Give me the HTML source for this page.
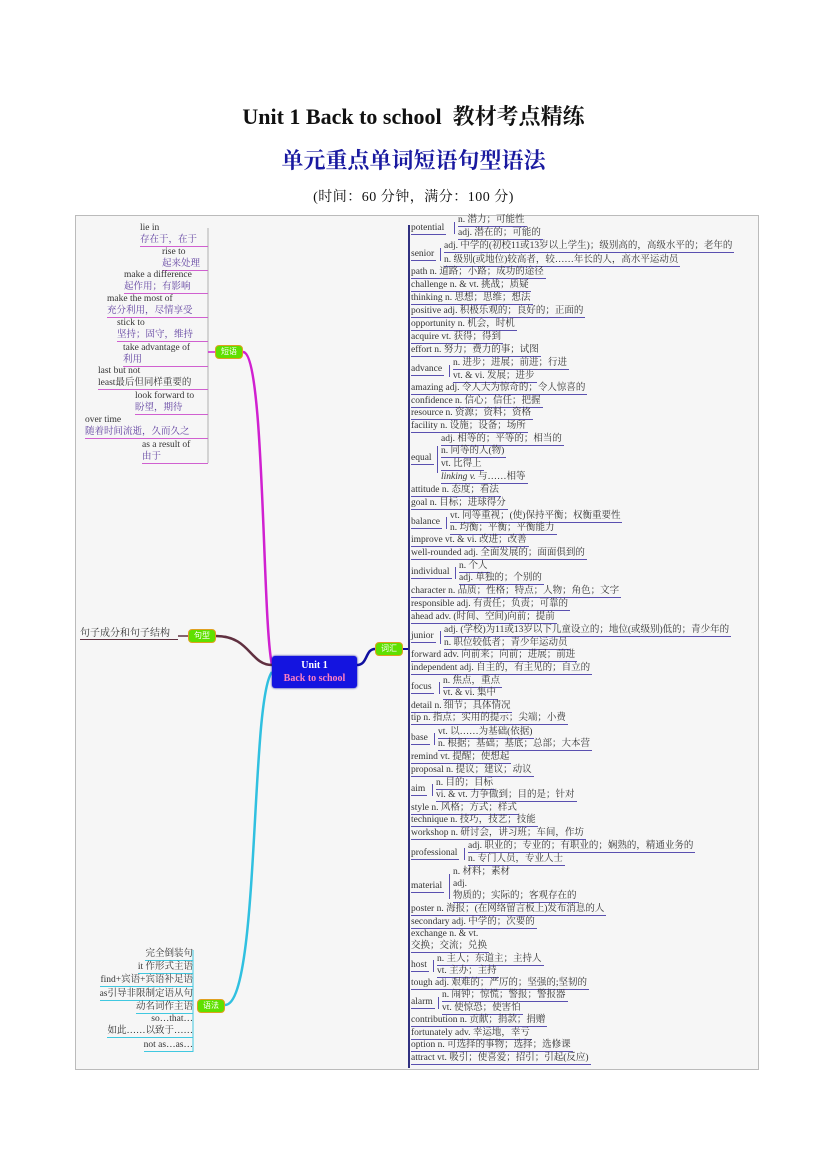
<!DOCTYPE html>
<html><head><meta charset="utf-8">
<style>
body{margin:0;width:827px;height:1169px;background:#fff;position:relative;font-family:"Liberation Serif","Noto Serif CJK SC",serif;overflow:hidden}
.t{position:absolute;white-space:nowrap}
.box{position:absolute;left:75px;top:215px;width:682px;height:853px;border:1px solid #bbb;background:#f6f6f6}
.r{position:absolute;font-size:9.5px;line-height:11px;border-bottom:1px solid #5a50b0;white-space:nowrap;color:#333;padding-right:2px}
.s{position:absolute;font-size:9.5px;line-height:11px;border-bottom:1px solid #5a50b0;white-space:nowrap;color:#333;padding-right:2px}
.br{position:absolute;border-left:1px solid #5a50b0;width:3px}
.p{position:absolute;font-size:9.5px;line-height:11px;color:#333;white-space:nowrap;text-align:left}
.pl{position:absolute;border-bottom:1px solid #d060d0;right:619px}
.g{position:absolute;font-size:9.5px;line-height:12px;color:#333;white-space:nowrap;right:634px;border-bottom:1px solid #40c8e0;text-align:right}
.node{position:absolute;width:26px;height:12px;background:#5fe000;border:1px solid #e0a020;border-radius:4px;font-size:8px;line-height:12px;text-align:center;color:#fff;font-family:"Liberation Sans","Noto Sans CJK SC",sans-serif}
</style></head><body>
<div class="t" style="left:0;width:827px;text-align:center;top:100px;font-size:22px;font-weight:bold;color:#111">Unit 1 Back to school&nbsp; 教材考点精练</div>
<div class="t" style="left:0;width:827px;text-align:center;top:144px;font-size:22px;font-weight:bold;color:#1a1aa0">单元重点单词短语句型语法</div>
<div class="t" style="left:0;width:827px;text-align:center;top:186px;font-size:14px;color:#111;letter-spacing:0.5px">(时间：60 分钟，满分：100 分)</div>
<div class="box"></div>
<svg style="position:absolute;left:0;top:0" width="827" height="1169">
<path d="M243 352 C265 352 262 620 272 665" stroke="#d020d0" stroke-width="2.5" fill="none"/>
<path d="M216 636 C250 636 250 665 272 665" stroke="#603040" stroke-width="2.5" fill="none"/>
<path d="M225 1005 C260 1005 250 700 272 672" stroke="#30c0e0" stroke-width="2.5" fill="none"/>
<path d="M357 665 C368 665 365 649 375 649" stroke="#1010a0" stroke-width="2.5" fill="none"/>
<line x1="403" y1="649" x2="408" y2="649" stroke="#1010a0" stroke-width="2"/>
<line x1="409" y1="225" x2="409" y2="1068" stroke="#303080" stroke-width="2"/>
<line x1="208" y1="228" x2="208" y2="463" stroke="#b0b0b0" stroke-width="1"/>
<line x1="208" y1="352" x2="215" y2="352" stroke="#d020d0" stroke-width="1.5"/>
<line x1="193" y1="950" x2="193" y2="1052" stroke="#40c8e0" stroke-width="1"/>
<line x1="178" y1="636" x2="188" y2="636" stroke="#603040" stroke-width="1.5"/>
</svg>
<div style="position:absolute;left:272px;top:656px;width:85px;height:32px;background:#1414e0;border-radius:3px;box-shadow:0 0 2px #0000a0;text-align:center;font-size:10px;line-height:13px;font-weight:bold;padding-top:3px;box-sizing:border-box"><span style="color:#fff">Unit 1</span><br><span style="color:#ff80c0">Back to school</span></div>
<div class="node" style="left:375px;top:642px">词汇</div>
<div class="node" style="left:215px;top:345px">短语</div>
<div class="node" style="left:188px;top:629px">句型</div>
<div class="node" style="left:197px;top:999px">语法</div>
<div class="t" style="left:80px;top:624px;font-size:10px;border-bottom:1px solid #603040;width:98px;color:#333">句子成分和句子结构</div>

<div class="p" style="left:140px;top:223px">lie in</div><div class="p pl" style="left:140px;top:235px;color:#6040a0">存在于，在于</div>
<div class="p" style="left:162px;top:247px">rise to</div><div class="p pl" style="left:162px;top:259px;color:#6040a0">起来处理</div>
<div class="p" style="left:124px;top:270px">make a difference</div><div class="p pl" style="left:124px;top:282px;color:#6040a0">起作用；有影响</div>
<div class="p" style="left:107px;top:294px">make the most of</div><div class="p pl" style="left:107px;top:306px;color:#6040a0">充分利用，尽情享受</div>
<div class="p" style="left:117px;top:318px">stick to</div><div class="p pl" style="left:117px;top:330px;color:#6040a0">坚持；固守，维持</div>
<div class="p" style="left:123px;top:343px">take advantage of</div><div class="p pl" style="left:123px;top:355px;color:#6040a0">利用</div>
<div class="p" style="left:98px;top:366px">last but not</div><div class="p pl" style="left:98px;top:378px">least最后但同样重要的</div>
<div class="p" style="left:135px;top:391px">look forward to</div><div class="p pl" style="left:135px;top:403px;color:#6040a0">盼望，期待</div>
<div class="p" style="left:85px;top:415px">over time</div><div class="p pl" style="left:85px;top:427px;color:#6040a0">随着时间流逝，久而久之</div>
<div class="p" style="left:142px;top:440px">as a result of</div><div class="p pl" style="left:142px;top:452px;color:#6040a0">由于</div>

<div class="g" style="top:948px">完全倒装句</div>
<div class="g" style="top:961px">it 作形式主语</div>
<div class="g" style="top:974px">find+宾语+宾语补足语</div>
<div class="g" style="top:988px">as引导非限制定语从句</div>
<div class="g" style="top:1001px">动名词作主语</div>
<div class="g" style="top:1013px;border:none">so…that…</div>
<div class="g" style="top:1025px">如此……以致于……</div>
<div class="g" style="top:1039px">not as…as…</div>

<div class="r" style="left:411px;top:223px">potential</div><div class="br" style="left:454px;top:222px;height:12px"></div>
<div class="s" style="left:458px;top:215px">n. 潜力；可能性</div><div class="s" style="left:458px;top:228px">adj. 潜在的；可能的</div>
<div class="r" style="left:411px;top:249px">senior</div><div class="br" style="left:440px;top:248px;height:13px"></div>
<div class="s" style="left:444px;top:241px">adj. 中学的(初校11或13岁以上学生)；级别高的，高级水平的；老年的</div><div class="s" style="left:444px;top:255px">n. 级别(或地位)较高者，较……年长的人，高水平运动员</div>
<div class="r" style="top:267px;left:411px">path n. 道路；小路；成功的途径</div>
<div class="r" style="top:280px;left:411px">challenge n. &amp; vt. 挑战；质疑</div>
<div class="r" style="top:293px;left:411px">thinking n. 思想；思维；想法</div>
<div class="r" style="top:306px;left:411px">positive adj. 积极乐观的；良好的；正面的</div>
<div class="r" style="top:319px;left:411px">opportunity n. 机会，时机</div>
<div class="r" style="top:332px;left:411px">acquire vt. 获得；得到</div>
<div class="r" style="top:345px;left:411px">effort n. 努力；费力的事；试图</div>
<div class="r" style="left:411px;top:364px">advance</div><div class="br" style="left:449px;top:365px;height:12px"></div>
<div class="s" style="left:453px;top:358px">n. 进步；进展；前进；行进</div><div class="s" style="left:453px;top:371px">vt. &amp; vi. 发展；进步</div>
<div class="r" style="top:383px;left:411px">amazing adj. 令人大为惊奇的；令人惊喜的</div>
<div class="r" style="top:396px;left:411px">confidence n. 信心；信任；把握</div>
<div class="r" style="top:408px;left:411px">resource n. 资源；资料；资格</div>
<div class="r" style="top:421px;left:411px">facility n. 设施；设备；场所</div>
<div class="r" style="left:411px;top:453px">equal</div><div class="br" style="left:437px;top:446px;height:27px"></div>
<div class="s" style="left:441px;top:434px">adj. 相等的；平等的；相当的</div><div class="s" style="left:441px;top:446px">n. 同等的人(物)</div>
<div class="s" style="left:441px;top:459px">vt. 比得上</div><div class="s" style="left:441px;top:472px"><i>linking v.</i> 与……相等</div>
<div class="r" style="top:485px;left:411px">attitude n. 态度；看法</div>
<div class="r" style="top:498px;left:411px">goal n. 目标；进球得分</div>
<div class="r" style="left:411px;top:517px">balance</div><div class="br" style="left:446px;top:517px;height:12px"></div>
<div class="s" style="left:450px;top:511px">vt. 同等重视；(使)保持平衡；权衡重要性</div><div class="s" style="left:450px;top:523px">n. 均衡；平衡；平衡能力</div>
<div class="r" style="top:535px;left:411px">improve vt. &amp; vi. 改进；改善</div>
<div class="r" style="top:548px;left:411px">well-rounded adj. 全面发展的；面面俱到的</div>
<div class="r" style="left:411px;top:567px">individual</div><div class="br" style="left:455px;top:567px;height:12px"></div>
<div class="s" style="left:459px;top:561px">n. 个人</div><div class="s" style="left:459px;top:573px">adj. 单独的；个别的</div>
<div class="r" style="top:586px;left:411px">character n. 品质；性格；特点；人物；角色；文字</div>
<div class="r" style="top:599px;left:411px">responsible adj. 有责任；负责；可靠的</div>
<div class="r" style="top:612px;left:411px">ahead adv. (时间、空间)向前；提前</div>
<div class="r" style="left:411px;top:631px">junior</div><div class="br" style="left:440px;top:631px;height:13px"></div>
<div class="s" style="left:444px;top:625px">adj. (学校)为11或13岁以下儿童设立的；地位(或级别)低的；青少年的</div><div class="s" style="left:444px;top:638px">n. 职位较低者；青少年运动员</div>
<div class="r" style="top:650px;left:411px">forward adv. 向前来；向前；进展；前进</div>
<div class="r" style="top:663px;left:411px">independent adj. 自主的，有主见的；自立的</div>
<div class="r" style="left:411px;top:682px">focus</div><div class="br" style="left:439px;top:682px;height:12px"></div>
<div class="s" style="left:443px;top:676px">n. 焦点，重点</div><div class="s" style="left:443px;top:688px">vt. &amp; vi. 集中</div>
<div class="r" style="top:701px;left:411px">detail n. 细节；具体情况</div>
<div class="r" style="top:713px;left:411px">tip n. 指点；实用的提示；尖端；小费</div>
<div class="r" style="left:411px;top:733px">base</div><div class="br" style="left:434px;top:733px;height:12px"></div>
<div class="s" style="left:438px;top:727px">vt. 以……为基础(依据)</div><div class="s" style="left:438px;top:739px">n. 根据；基础；基底；总部；大本营</div>
<div class="r" style="top:752px;left:411px">remind vt. 提醒；使想起</div>
<div class="r" style="top:765px;left:411px">proposal n. 提议；建议；动议</div>
<div class="r" style="left:411px;top:784px">aim</div><div class="br" style="left:432px;top:784px;height:12px"></div>
<div class="s" style="left:436px;top:778px">n. 目的；目标</div><div class="s" style="left:436px;top:790px">vi. &amp; vt. 力争做到；目的是；针对</div>
<div class="r" style="top:803px;left:411px">style n. 风格；方式；样式</div>
<div class="r" style="top:815px;left:411px">technique n. 技巧，技艺；技能</div>
<div class="r" style="top:828px;left:411px">workshop n. 研讨会，讲习班；车间，作坊</div>
<div class="r" style="left:411px;top:848px">professional</div><div class="br" style="left:464px;top:848px;height:12px"></div>
<div class="s" style="left:468px;top:841px">adj. 职业的；专业的；有职业的；娴熟的，精通业务的</div><div class="s" style="left:468px;top:854px">n. 专门人员，专业人士</div>
<div class="r" style="left:411px;top:881px">material</div><div class="br" style="left:449px;top:874px;height:25px"></div>
<div class="s" style="left:453px;top:867px;border:none">n. 材料；素材</div><div class="s" style="left:453px;top:879px;border:none">adj.</div><div class="s" style="left:453px;top:891px">物质的；实际的；客观存在的</div>
<div class="r" style="top:904px;left:411px">poster n. 海报；(在网络留言板上)发布消息的人</div>
<div class="r" style="top:917px;left:411px">secondary adj. 中学的；次要的</div>
<div class="r" style="top:929px;left:411px;border:none">exchange n. &amp; vt.</div>
<div class="r" style="top:941px;left:411px">交换；交流；兑换</div>
<div class="r" style="left:411px;top:960px">host</div><div class="br" style="left:433px;top:960px;height:12px"></div>
<div class="s" style="left:437px;top:954px">n. 主人；东道主；主持人</div><div class="s" style="left:437px;top:966px">vt. 主办；主持</div>
<div class="r" style="top:978px;left:411px">tough adj. 艰难的；严厉的；坚强的;坚韧的</div>
<div class="r" style="left:411px;top:997px">alarm</div><div class="br" style="left:438px;top:997px;height:12px"></div>
<div class="s" style="left:442px;top:990px">n. 闹钟；惊慌；警报；警报器</div><div class="s" style="left:442px;top:1003px">vt. 使惊恐；使害怕</div>
<div class="r" style="top:1015px;left:411px">contribution n. 贡献；捐款；捐赠</div>
<div class="r" style="top:1028px;left:411px">fortunately adv. 幸运地，幸亏</div>
<div class="r" style="top:1040px;left:411px">option n. 可选择的事物；选择；选修课</div>
<div class="r" style="top:1053px;left:411px">attract vt. 吸引；使喜爱；招引；引起(反应)</div>
</body></html>
